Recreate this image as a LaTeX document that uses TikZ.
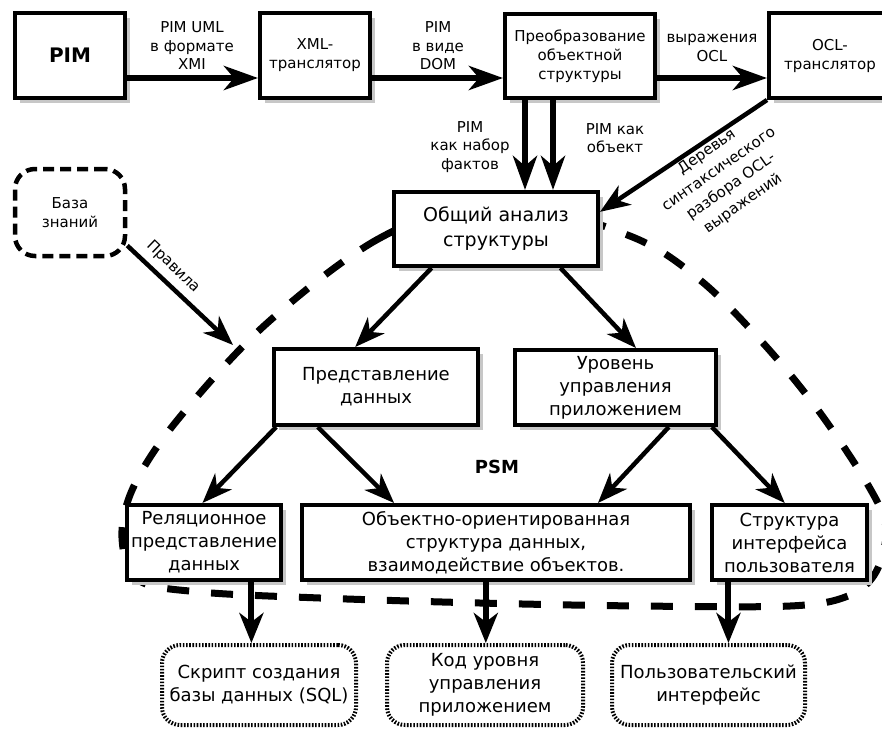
\documentclass[tikz,border=0pt]{standalone}
\usepackage{fontspec}
\setmainfont{DejaVu Sans}
\usetikzlibrary{arrows.meta,shadows,calc}
\begin{document}
\begin{tikzpicture}[x=1pt,y=-1pt,
  box/.style={draw,line width=4pt,fill=white,inner sep=0pt,align=center,
    drop shadow={shadow xshift=5pt,shadow yshift=-5pt,fill=black!22,opacity=1}},
  dashbox/.style={draw,line width=4.5pt,fill=white,inner sep=0pt,align=center,
    rounded corners=20pt,dash pattern=on 11pt off 6pt},
  dotbox/.style={draw,line width=4pt,fill=white,inner sep=0pt,align=center,
    rounded corners=18pt,dash pattern=on 1.6pt off 1.6pt},
  ftop/.style={font=\fontsize{15}{19}\selectfont},
  fmid/.style={font=\fontsize{18}{23}\selectfont},
  fobsh/.style={font=\fontsize{19}{25}\selectfont},
  lbl/.style={align=center,inner sep=0pt,font=\fontsize{15}{18.5}\selectfont},
  thickarrow/.style={line width=6pt,-{Stealth[length=34pt,width=24pt,inset=10pt]}},
  thinarrow/.style={line width=4.5pt,-{Stealth[length=30pt,width=23pt,inset=9pt]}},
  downarrow/.style={line width=6pt,-{Stealth[length=30pt,width=24pt,inset=9pt]}},
  psmline/.style={line width=7pt,dash pattern=on 22pt off 22pt}
]
\useasboundingbox (0,0) rectangle (882,728);
% PSM boundary
\draw[psmline] plot[smooth cycle,tension=0.55] coordinates {
  (496,200) (380,238) (265,325) (175,423) (133,488) (122,538) (138,580)
  (200,592) (320,598) (480,603) (640,606) (790,606) (848,596) (876,572)
  (886,528) (868,485) (818,410) (763,343) (700,280) (630,236)};
% top row
\node[box,minimum width=110,minimum height=85,font=\bfseries\fontsize{20}{24}\selectfont] (pim) at (70,55.5) {PIM};
\node[box,ftop,minimum width=110,minimum height=85] (xml) at (315,55.5) {XML-\\транслятор};
\node[box,ftop,minimum width=150,minimum height=84] (preobr) at (580,56) {Преобразование\\объектной\\структуры};
\node[box,ftop,minimum width=122,minimum height=85] (ocl) at (830,55.5) {OCL-\\транслятор};
% middle
\node[box,fobsh,minimum width=204,minimum height=74] (obsh) at (496,229) {Общий анализ\\структуры};
\node[dashbox,ftop,minimum width=110,minimum height=87] (baza) at (70,212.5) {База\\знаний};
\node[box,fmid,minimum width=204,minimum height=76] (pred) at (376,387) {Представление\\данных};
\node[box,fmid,minimum width=201,minimum height=75] (urov) at (615.5,387.5) {Уровень\\управления\\приложением};
% lower row
\node[box,fmid,minimum width=154,minimum height=75] (rel) at (204,542.5) {Реляционное\\представление\\данных};
\node[box,fmid,minimum width=388,minimum height=75] (obj) at (496,542.5) {Объектно-ориентированная\\структура данных,\\взаимодействие объектов.};
\node[box,fmid,minimum width=155,minimum height=75] (str) at (789.5,542.5) {Структура\\интерфейса\\пользователя};
% outputs
\node[dotbox,fmid,minimum width=194,minimum height=80] (skript) at (259,685) {Скрипт создания\\базы данных (SQL)};
\node[dotbox,fmid,minimum width=196,minimum height=80] (kod) at (485,685) {Код уровня\\управления\\приложением};
\node[dotbox,fmid,minimum width=193,minimum height=80] (polz) at (708.5,685) {Пользовательский\\интерфейс};
% labels
\node[lbl] (l1) at (192,46) {PIM UML\\в формате\\XMI};
\node[lbl] (l2) at (438,46) {PIM\\в виде\\DOM};
\node[lbl] (l3) at (712,48) {выражения\\OCL};
\node[lbl] (l4) at (470,147) {PIM\\как набор\\фактов};
\node[lbl] (l5) at (615,138) {PIM как\\объект};
\node[lbl,rotate=35,font=\fontsize{15}{21}\selectfont] (l6) at (725,178) {Деревья\\синтаксического\\разбора OCL-\\выражений};
\node[lbl,rotate=-44] (l7) at (173,267) {Правила};
\node[font=\bfseries\fontsize{18}{22}\selectfont] (psm) at (497,467) {PSM};
% connectors
\coordinate (ay) at (0,78);
\draw[thickarrow] (pim.east |- ay) -- (xml.west |- ay);
\draw[thickarrow] (xml.east |- ay) -- (preobr.west |- ay);
\draw[thickarrow] (preobr.east |- ay) -- (ocl.west |- ay);
\coordinate (v1) at (525,0);
\coordinate (v2) at (553,0);
\draw[thickarrow] (v1 |- preobr.south) -- (v1 |- obsh.north);
\draw[thickarrow] (v2 |- preobr.south) -- (v2 |- obsh.north);
\draw[thinarrow] (ocl.south west) -- ($(obsh.north east)!0.28!(obsh.south east)$);
\coordinate (ptip) at (233,345);
\draw[thinarrow] (baza.-30) -- (ptip);
\draw[thinarrow] ($(obsh.south west)!0.19!(obsh.south east)$) -- ($(pred.north west)!0.40!(pred.north east)$);
\draw[thinarrow] ($(obsh.south west)!0.81!(obsh.south east)$) -- ($(urov.north west)!0.60!(urov.north east)$);
\draw[thinarrow] ($(pred.south west)!0.02!(pred.south east)$) -- ($(rel.north west)!0.49!(rel.north east)$);
\draw[thinarrow] ($(pred.south west)!0.22!(pred.south east)$) -- ($(obj.north west)!0.24!(obj.north east)$);
\draw[thinarrow] ($(urov.south west)!0.76!(urov.south east)$) -- ($(obj.north west)!0.76!(obj.north east)$);
\draw[thinarrow] ($(urov.south west)!0.97!(urov.south east)$) -- ($(str.north west)!0.47!(str.north east)$);
\coordinate (b1) at ($(rel.south west)!0.8!(rel.south east)$);
\coordinate (b2) at ($(obj.south west)!0.474!(obj.south east)$);
\coordinate (b3) at ($(str.south west)!0.116!(str.south east)$);
\draw[downarrow] (b1) -- (b1 |- skript.north);
\draw[downarrow] (b2) -- (b2 |- kod.north);
\draw[downarrow] (b3) -- (b3 |- polz.north);
\end{tikzpicture}
\end{document}
